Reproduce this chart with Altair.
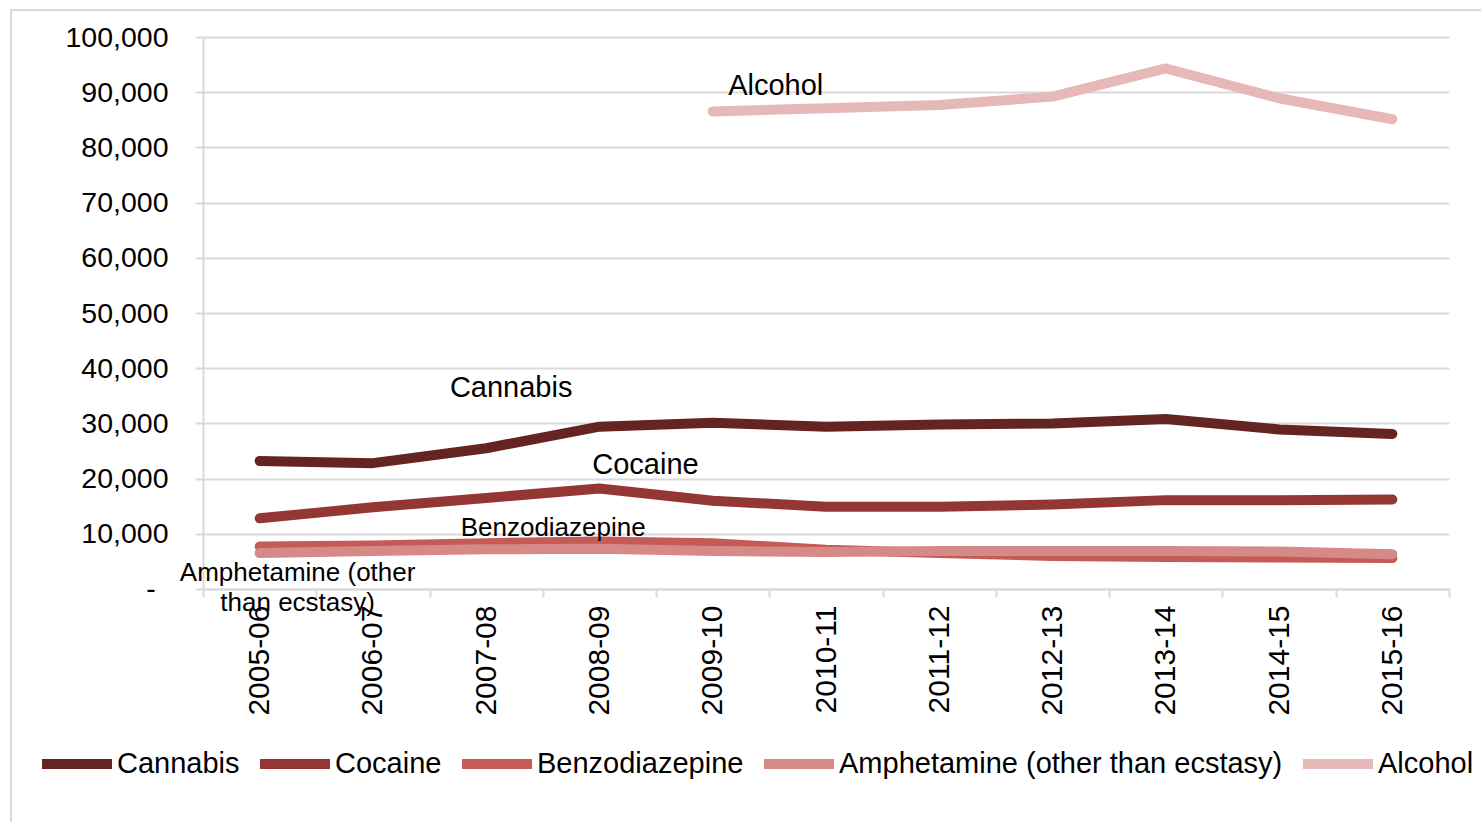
import altair as alt
import pandas as pd

years = ["2005-06", "2006-07", "2007-08", "2008-09", "2009-10", "2010-11",
         "2011-12", "2012-13", "2013-14", "2014-15", "2015-16"]
cannabis = [23200, 22800, 25500, 29400, 30100, 29400, 29800, 30000, 30800, 28900, 28100]
cocaine = [12800, 14800, 16500, 18200, 16000, 14900, 14900, 15300, 16100, 16100, 16200]
benzodiazepine = [7700, 7900, 8300, 8600, 8300, 7100, 6500, 6000, 5800, 5700, 5600]
amphetamine = [6500, 6900, 7200, 7300, 6900, 6700, 6900, 6900, 6900, 6800, 6300]
alcohol = [None, None, None, None, 86500, 87100, 87700, 89200, 94300, 88900, 85100]

series_names = ["Cannabis", "Cocaine", "Benzodiazepine",
                "Amphetamine (other than ecstasy)", "Alcohol"]
series_values = [cannabis, cocaine, benzodiazepine, amphetamine, alcohol]
series_colors = ["#632423", "#943634", "#c55a56", "#d68a88", "#e6b8b7"]

rows = []
for name, vals in zip(series_names, series_values):
    for yr, v in zip(years, vals):
        if v is not None:
            rows.append({"year": yr, "substance": name, "count": v})
df = pd.DataFrame(rows)

FONT = "Liberation Sans"
GRID = "#d9d9d9"

x_enc = alt.X(
    "year:O",
    sort=years,
    bandPosition=0.5,
    scale=alt.Scale(type="band", paddingInner=0, paddingOuter=0, domain=years),
    axis=alt.Axis(
        title=None, labelAngle=270, labelFontSize=30, labelFont=FONT,
        labelColor="#000000", tickBand="extent", tickSize=8, tickWidth=2,
        tickColor=GRID, domainColor=GRID, domainWidth=2, labelPadding=8,
        grid=False,
    ),
)
# Zero is shown as an accounting-style dash, drawn separately below
y_enc = alt.Y(
    "count:Q",
    scale=alt.Scale(domain=[0, 100000], nice=False),
    axis=alt.Axis(
        title=None, values=list(range(0, 100001, 10000)),
        labelExpr="datum.value == 0 ? '' : format(datum.value, ',')",
        labelFontSize=28.5, labelFont=FONT, labelColor="#000000",
        tickSize=8, tickWidth=2, tickColor=GRID, domainColor=GRID,
        domainWidth=2, gridColor=GRID, gridWidth=2, labelPadding=27,
    ),
)

lines = alt.Chart(df).mark_line(
    strokeWidth=10, strokeCap="round", strokeJoin="round"
).encode(
    x=x_enc,
    y=y_enc,
    color=alt.Color(
        "substance:N",
        scale=alt.Scale(domain=series_names, range=series_colors),
        legend=alt.Legend(
            title=None, orient="none", legendX=-166, legendY=687,
            direction="horizontal", columns=5, symbolType="stroke",
            symbolSize=4900, symbolStrokeWidth=10, labelFontSize=29,
            labelFont=FONT, labelColor="#000000", labelOffset=0,
            labelLimit=0, columnPadding=0, symbolOpacity=1, padding=0,
        ),
    ),
    detail="substance:N",
)

zero_dash = alt.Chart(pd.DataFrame([{"count": 0, "label": "-"}])).mark_text(
    font=FONT, fontSize=28.5, color="#000000", align="center", baseline="middle",
).encode(
    x=alt.value(-52),
    y=alt.Y("count:Q"),
    text="label:N",
)

# Inline series labels
notes = [
    ("Alcohol", "2009-10", 91100, 63, 29),
    ("Cannabis", "2007-08", 36400, 25, 29),
    ("Cocaine", "2008-09", 22450, 46, 29),
    ("Benzodiazepine", "2007-08", 11050, 67, 26),
    ("Amphetamine (other\nthan ecstasy)", "2005-06", 2900, 38, 26),
]
label_layers = []
for text, yr, val, dx, size in notes:
    ldf = pd.DataFrame([{"year": yr, "count": val, "label": text}])
    label_layers.append(
        alt.Chart(ldf).mark_text(
            font=FONT, fontSize=size, color="#000000", dx=dx,
            align="center", baseline="middle", lineBreak="\n", lineHeight=30,
        ).encode(
            x=alt.X("year:O", sort=years, bandPosition=0.5),
            y=alt.Y("count:Q"),
            text="label:N",
        )
    )

frame = alt.Chart(pd.DataFrame([{"k": 1}])).mark_rect(
    filled=False, stroke=GRID, strokeWidth=2
).encode(
    x=alt.value(-192), x2=alt.value(1290),
    y=alt.value(-27), y2=alt.value(800),
)

chart = alt.layer(frame, lines, zero_dash, *label_layers).properties(
    width=1246, height=552,
    autosize=alt.AutoSizeParams(type="none"),
    padding={"left": 203, "top": 37, "right": 32, "bottom": 233},
    background="#ffffff",
).configure_view(stroke=None)

chart.save("out.html", embed_options={"renderer": "svg", "actions": False})
